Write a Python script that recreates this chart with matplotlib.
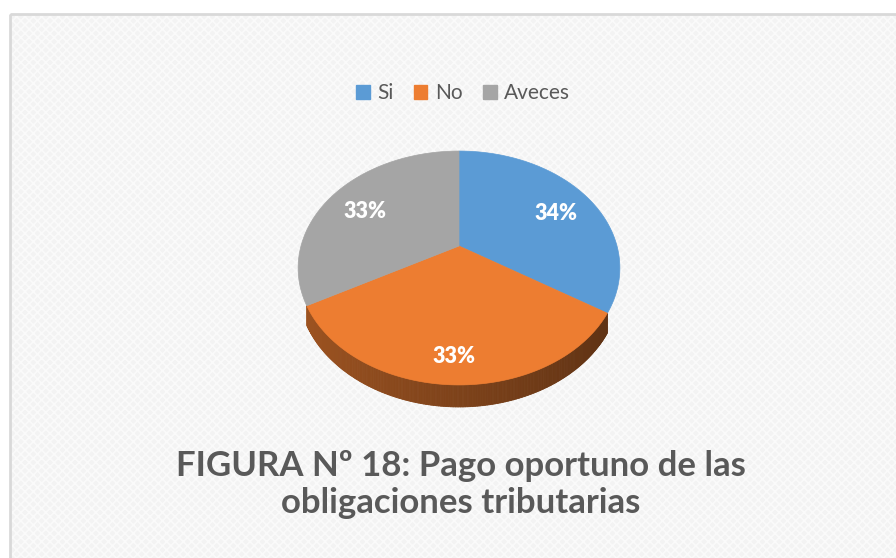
import numpy as np
import matplotlib
matplotlib.use("Agg")
import matplotlib.pyplot as plt
from matplotlib.patches import Polygon, Rectangle, Patch
from matplotlib.collections import PolyCollection
from matplotlib.colors import to_rgb

# ---- data ----
categories = ["Si", "No", "Aveces"]
values = [34, 33, 33]
labels = ["34%", "33%", "33%"]
colors = ["#5B9BD5", "#ED7D31", "#A5A5A5"]
title_lines = ["FIGURA Nº 18: Pago oportuno de las", "obligaciones tributarias"]

FONT = ["Lato", "DejaVu Sans"]
W, H = 896, 558
plt.rcParams["hatch.linewidth"] = 1.2
fig = plt.figure(figsize=(W / 100, H / 100), dpi=100)
fig.patch.set_facecolor("white")
ax = fig.add_axes([0, 0, 1, 1])
ax.set_xlim(0, W)
ax.set_ylim(H, 0)
ax.axis("off")

# chart area background with subtle texture and frame
ax.add_patch(Rectangle((10, 14), W + 20, H + 20, facecolor="#f3f3f3",
                       edgecolor="none", lw=0, zorder=0))
ax.add_patch(Rectangle((10, 14), W + 20, H + 20, facecolor="none",
                       edgecolor="#fafafa", hatch="xxxx", lw=0, zorder=0.5))
ax.add_patch(Rectangle((10, 14), W + 20, H + 20, facecolor="none",
                       edgecolor="#d9d9d9", lw=2, zorder=1))

# hidden pie: gives the wedge angles
pax = fig.add_axes([0, 0, 0.01, 0.01])
wedges, _ = pax.pie(values, startangle=90, counterclock=False)
pax.set_visible(False)

# perspective projection of the tilted disk
CX, CY, U, K, C, DEPTH = 459, 246, 158, 0.188, 0.714, 0.113


def proj(t_deg, r=1.0, depth=0.0):
    t = np.radians(t_deg)
    x = r * np.cos(t)
    y = r * np.sin(t)
    s = 1.0 / (1.0 + K * y)
    return CX + U * x * s, CY - U * C * y * s + U * depth * s


# sides: drawn for wedges whose centre faces the viewer
for w, col in zip(wedges, colors):
    if np.sin(np.radians((w.theta1 + w.theta2) / 2)) >= 0:
        continue
    base = np.array(to_rgb(col))
    ts = np.linspace(w.theta1, w.theta2, 240)
    quads, qcols = [], []
    for t0, t1 in zip(ts[:-1], ts[1:]):
        mid = np.radians((t0 + t1) / 2)
        if np.sin(mid) < -K:
            p0 = proj(t0); p1 = proj(t1)
            p2 = proj(t1, depth=DEPTH); p3 = proj(t0, depth=DEPTH)
            quads.append([p0, p1, p2, p3])
            f = 0.53 - 0.15 * np.cos(mid)
            qcols.append(tuple(base * f))
    if quads:
        ax.add_collection(PolyCollection(quads, facecolors=qcols,
                                         edgecolors=qcols, linewidths=0.6,
                                         zorder=2))

# top faces
for w, col in zip(wedges, colors):
    ts = np.linspace(w.theta1, w.theta2, 240)
    pts = [proj(0, r=0)] + [proj(t) for t in ts]
    ax.add_patch(Polygon(pts, closed=True, facecolor=col, edgecolor=col,
                         lw=0.5, zorder=3))

# labels
ECY = (proj(90)[1] + proj(270)[1]) / 2
for w, lab in zip(wedges, labels):
    mid = (w.theta1 + w.theta2) / 2
    ex, ey = proj(mid)
    lx = CX + 0.76 * (ex - CX)
    ly = ECY + 0.76 * (ey - ECY)
    ax.text(lx, ly, lab, ha="center", va="center", color="white",
            fontsize=15.5, fontweight="heavy", family=FONT, zorder=5)

# legend
handles = [Patch(facecolor=c, edgecolor=c) for c in colors]
leg = fig.legend(handles, categories, loc="center", ncol=3,
                 bbox_to_anchor=(463 / W, 1 - 93 / H), frameon=False,
                 prop={"family": FONT, "size": 15},
                 handlelength=0.65, handleheight=0.65, handletextpad=0.35,
                 columnspacing=1.0, borderpad=0)
for t in leg.get_texts():
    t.set_color("#595959")

# title
for i, line in enumerate(title_lines):
    ax.text(461, 466 + 37 * i, line, ha="center", va="center",
            color="#595959", fontsize=25, fontweight="bold", family=FONT,
            zorder=5)

fig.savefig("out.png", dpi=100, facecolor="white")
